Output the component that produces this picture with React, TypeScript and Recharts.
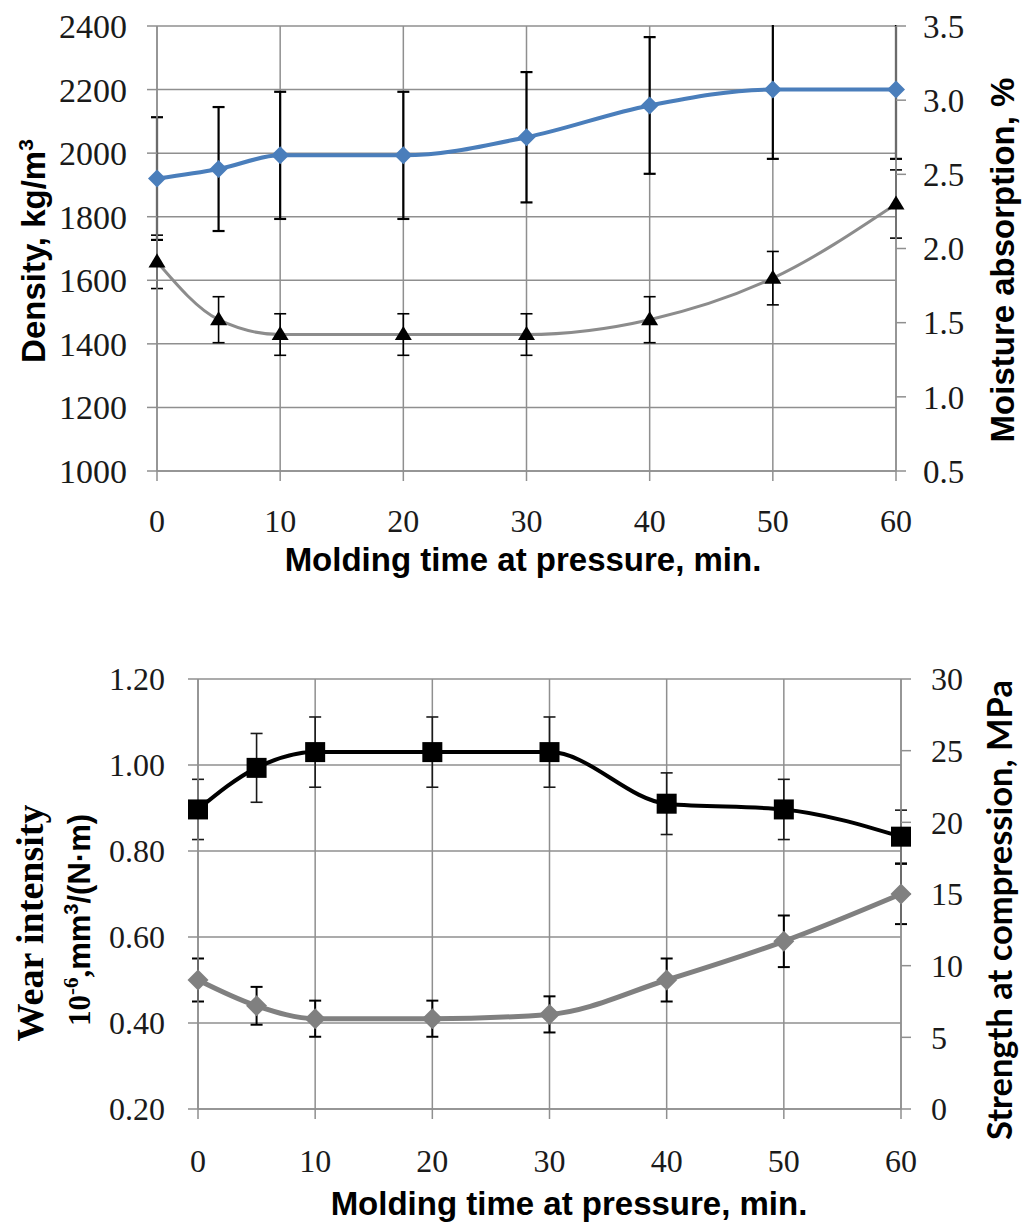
import React from "react";
import {
  LineChart,
  Line,
  XAxis,
  YAxis,
  CartesianGrid,
  ErrorBar,
  Label,
} from "recharts";

// molding time, min
const TIMES = [0, 5, 10, 20, 30, 40, 50, 60];
const TIME_TICKS = [0, 10, 20, 30, 40, 50, 60];

// top panel: density (left) and moisture absorption (right)
const DENSITY = [1920, 1950, 1993, 1993, 2050, 2150, 2200, 2200];
const DENSITY_ERR = [193, 195, 200, 200, 205, 215, 218, 218];
const MOISTURE = [1.91, 1.52, 1.42, 1.42, 1.42, 1.52, 1.8, 2.3];
const MOISTURE_ERR = [0.18, 0.155, 0.14, 0.14, 0.14, 0.155, 0.18, 0.23];
const DENSITY_TICKS = [1000, 1200, 1400, 1600, 1800, 2000, 2200, 2400];
const MOISTURE_TICKS = [0.5, 1.0, 1.5, 2.0, 2.5, 3.0, 3.5];

// bottom panel: wear intensity (left) and compression strength (right)
const WEAR = [0.5, 0.44, 0.41, 0.41, 0.42, 0.5, 0.59, 0.7];
const WEAR_ERR = [0.05, 0.044, 0.042, 0.042, 0.042, 0.05, 0.06, 0.07];
const STRENGTH = [20.9, 23.8, 24.9, 24.9, 24.9, 21.3, 20.9, 19.0];
const STRENGTH_ERR = [2.1, 2.4, 2.45, 2.45, 2.45, 2.15, 2.1, 1.85];
const WEAR_TICKS = [0.2, 0.4, 0.6, 0.8, 1.0, 1.2];
const STRENGTH_TICKS = [0, 5, 10, 15, 20, 25, 30];

const topData = TIMES.map((t, i) => ({
  t,
  density: DENSITY[i],
  densityErr: DENSITY_ERR[i],
  moisture: MOISTURE[i],
  moistureErr: MOISTURE_ERR[i],
}));

const bottomData = TIMES.map((t, i) => ({
  t,
  wear: WEAR[i],
  wearErr: WEAR_ERR[i],
  strength: STRENGTH[i],
  strengthErr: STRENGTH_ERR[i],
}));

const GRID = "#8f8f8f";
const SERIF = "'Liberation Serif', 'Times New Roman', serif";
const SANS = "'Liberation Sans', Arial, sans-serif";
const tick = (size: number) => ({ fontFamily: SERIF, fontSize: size, fill: "#1a1a1a" });

// marker renderers
const diamond = (color: string, r: number) => (props: any) => {
  const { cx, cy, index } = props;
  if (cx == null || cy == null) return <g key={`dm-${index}`} />;
  return (
    <path
      key={`dm-${index}`}
      d={`M${cx},${cy - r}L${cx + r},${cy}L${cx},${cy + r}L${cx - r},${cy}Z`}
      fill={color}
    />
  );
};

const triangle = (color: string, r: number) => (props: any) => {
  const { cx, cy, index } = props;
  if (cx == null || cy == null) return <g key={`tr-${index}`} />;
  return (
    <path
      key={`tr-${index}`}
      d={`M${cx},${cy - r}L${cx + r},${cy + r * 0.65}L${cx - r},${cy + r * 0.65}Z`}
      fill={color}
    />
  );
};

const square = (color: string, r: number) => (props: any) => {
  const { cx, cy, index } = props;
  if (cx == null || cy == null) return <g key={`sq-${index}`} />;
  return <rect key={`sq-${index}`} x={cx - r} y={cy - r} width={2 * r} height={2 * r} fill={color} />;
};

const vTitle = (x: number, y: number, children: React.ReactNode, font = SANS, size = 33) => () => (
  <text
    x={x}
    y={y}
    transform={`rotate(-90, ${x}, ${y})`}
    textAnchor="middle"
    fontFamily={font}
    fontWeight="bold"
    fontSize={size}
    fill="#000"
  >
    {children}
  </text>
);

const hTitle = (x: number, y: number, text: string) => () => (
  <text x={x} y={y} textAnchor="middle" fontFamily={SANS} fontWeight="bold" fontSize={33} fill="#000">
    {text}
  </text>
);

function TopChart() {
  return (
    <LineChart
      width={1029}
      height={600}
      data={topData}
      margin={{ top: 26, right: 33, bottom: 69, left: 57 }}
    >
      <CartesianGrid yAxisId="left" stroke={GRID} strokeWidth={1.5} />
      <XAxis
        dataKey="t"
        type="number"
        domain={[0, 60]}
        ticks={TIME_TICKS}
        height={60}
        tick={tick(32)}
        tickSize={10}
        tickMargin={28}
        stroke={GRID}
        strokeWidth={1.5}
      >
        <Label content={hTitle(523, 571, "Molding time at pressure, min.")} />
      </XAxis>
      <YAxis
        yAxisId="left"
        domain={[1000, 2400]}
        ticks={DENSITY_TICKS}
        allowDataOverflow
        width={100}
        tick={tick(34)}
        tickSize={10}
        tickMargin={20}
        stroke={GRID}
        strokeWidth={1.5}
      >
        <Label
          content={vTitle(
            45,
            251,
            <>
              Density, kg/m
              <tspan dy={-12} fontSize={21}>
                3
              </tspan>
            </>
          )}
        />
      </YAxis>
      <YAxis
        yAxisId="right"
        orientation="right"
        domain={[0.5, 3.5]}
        ticks={MOISTURE_TICKS}
        tickFormatter={(v: number) => v.toFixed(1)}
        width={100}
        tick={tick(33)}
        tickSize={10}
        tickMargin={17}
        stroke={GRID}
        strokeWidth={1.5}
      >
        <Label content={vTitle(1014, 260, "Moisture absorption, %")} />
      </YAxis>
      <Line
        yAxisId="left"
        dataKey="density"
        type="monotone"
        stroke="#4a7ebb"
        strokeWidth={4}
        dot={diamond("#4a7ebb", 9)}
        activeDot={false}
        isAnimationActive={false}
      >
        <ErrorBar dataKey="densityErr" direction="y" width={6} stroke="#000" strokeWidth={2.2} />
      </Line>
      <Line
        yAxisId="right"
        dataKey="moisture"
        type="monotone"
        stroke="#8c8c8c"
        strokeWidth={3}
        dot={triangle("#000", 8.5)}
        activeDot={false}
        isAnimationActive={false}
      >
        <ErrorBar dataKey="moistureErr" direction="y" width={6} stroke="#000" strokeWidth={1.6} />
      </Line>
    </LineChart>
  );
}

function BottomChart() {
  return (
    <LineChart
      width={1029}
      height={604}
      data={bottomData}
      margin={{ top: 59, right: 28, bottom: 55, left: 98 }}
    >
      <CartesianGrid yAxisId="left" stroke={GRID} strokeWidth={1.5} />
      <XAxis
        dataKey="t"
        type="number"
        domain={[0, 60]}
        ticks={TIME_TICKS}
        height={60}
        tick={tick(32)}
        tickSize={10}
        tickMargin={30}
        stroke={GRID}
        strokeWidth={1.5}
      >
        <Label content={hTitle(569, 595, "Molding time at pressure, min.")} />
      </XAxis>
      <YAxis
        yAxisId="left"
        domain={[0.2, 1.2]}
        ticks={WEAR_TICKS}
        tickFormatter={(v: number) => v.toFixed(2)}
        width={100}
        tick={tick(32)}
        tickSize={10}
        tickMargin={23}
        stroke={GRID}
        strokeWidth={1.5}
      >
        <Label content={vTitle(43, 303, "Wear intensity", SERIF, 38)} />
        <Label
          content={vTitle(
            90,
            300,
            <>
              <tspan fontFamily={SERIF}>10</tspan>
              <tspan fontFamily={SERIF} dy={-12} fontSize={21}>
                -6
              </tspan>
              <tspan fontFamily={SERIF} dy={12}>
                ,
              </tspan>
              <tspan>mm</tspan>
              <tspan dy={-12} fontSize={20}>
                3
              </tspan>
              <tspan dy={12}>/(N·m)</tspan>
            </>,
            SANS,
            31
          )}
        />
      </YAxis>
      <YAxis
        yAxisId="right"
        orientation="right"
        domain={[0, 30]}
        ticks={STRENGTH_TICKS}
        width={100}
        tick={tick(32)}
        tickSize={10}
        tickMargin={20}
        stroke={GRID}
        strokeWidth={1.5}
      >
        <Label
          content={vTitle(1012, 290, "Strength at compression, MPa", "Lato, 'Liberation Sans', sans-serif", 34.5)}
        />
      </YAxis>
      <Line
        yAxisId="right"
        dataKey="strength"
        type="monotone"
        stroke="#000"
        strokeWidth={4}
        dot={square("#000", 10)}
        activeDot={false}
        isAnimationActive={false}
      >
        <ErrorBar dataKey="strengthErr" direction="y" width={6} stroke="#1a1a1a" strokeWidth={1.6} />
      </Line>
      <Line
        yAxisId="left"
        dataKey="wear"
        type="monotone"
        stroke="#808080"
        strokeWidth={5}
        dot={diamond("#808080", 10.5)}
        activeDot={false}
        isAnimationActive={false}
      >
        <ErrorBar dataKey="wearErr" direction="y" width={6} stroke="#000" strokeWidth={2} />
      </Line>
    </LineChart>
  );
}

export default function App() {
  return (
    <div
      style={{
        position: "absolute",
        left: 0,
        top: 0,
        width: 1029,
        height: 1224,
        background: "#fff",
      }}
    >
      <div style={{ position: "absolute", left: 0, top: 0 }}>
        <TopChart />
      </div>
      {/* hide the error bars that run past the top of the density axis, as the plot clips them */}
      <div
        style={{
          position: "absolute",
          left: 740,
          top: 0,
          width: 165,
          height: 25,
          background: "#fff",
        }}
      />
      <div style={{ position: "absolute", left: 0, top: 620 }}>
        <BottomChart />
      </div>
    </div>
  );
}
